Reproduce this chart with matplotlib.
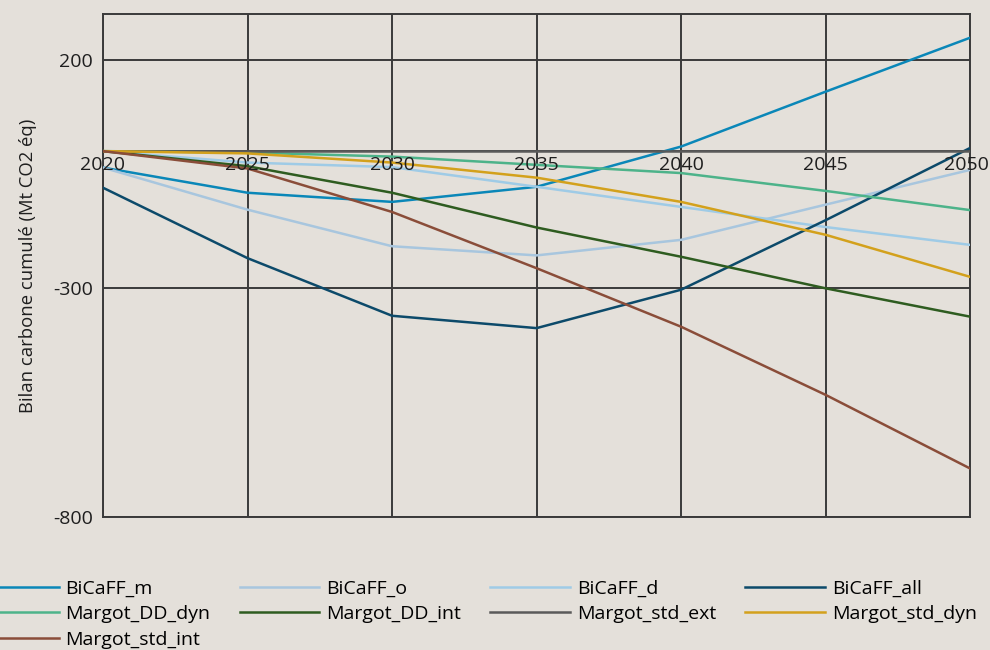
import numpy as np
import matplotlib
matplotlib.use("Agg")
import matplotlib.pyplot as plt
from matplotlib.transforms import offset_copy

# années et séries (Mt CO2 éq, cumulé)
annees = [2020, 2025, 2030, 2035, 2040, 2045, 2050]

bicaff_m = [-36, -91, -111, -78, 10, 130, 248]
bicaff_o = [-36, -128, -208, -228, -194, -117, -41]
bicaff_d = [0, -25, -35, -78, -122, -166, -205]
bicaff_all = [-80, -234, -360, -387, -303, -151, 7]
margot_dd_dyn = [0, -3, -12, -30, -48, -87, -129]
margot_dd_int = [0, -33, -91, -167, -231, -300, -362]
margot_std_ext = [0, 0, 0, 0, 0, 0, 0]
margot_std_dyn = [0, -5, -25, -58, -111, -183, -275]
margot_std_int = [0, -38, -133, -256, -384, -533, -694]

series = [
    ("BiCaFF_m", bicaff_m, "#0a87b8"),
    ("BiCaFF_o", bicaff_o, "#a8c6de"),
    ("BiCaFF_d", bicaff_d, "#9fcbe6"),
    ("BiCaFF_all", bicaff_all, "#0c4a6a"),
    ("Margot_DD_dyn", margot_dd_dyn, "#4db38a"),
    ("Margot_DD_int", margot_dd_int, "#2e5c20"),
    ("Margot_std_ext", margot_std_ext, "#5a5a5a"),
    ("Margot_std_dyn", margot_std_dyn, "#d3a11c"),
    ("Margot_std_int", margot_std_int, "#8a4d39"),
]

yticks = [200, 0, -300, -800]
ytick_labels = ["200", "", "-300", "-800"]

fond = "#e4e0da"
grille = "#3a3a3a"
txt = "#1e1e1e"

plt.rcParams['font.family'] = ['Open Sans', 'DejaVu Sans']

fig = plt.figure(figsize=(9.9, 6.5), dpi=100, facecolor=fond)
ax = fig.add_axes([0.104, 0.2046, 0.876, 0.774])
ax.set_facecolor(fond)

# grille
for y in yticks:
    ax.axhline(y, color=grille, lw=1.4, zorder=1)
for x in annees:
    ax.axvline(x, color=grille, lw=1.4, zorder=1)

handles = {}
for nom, vals, col in series:
    (h,) = ax.plot(annees, vals, color=col, lw=1.8, label=nom, zorder=3)
    handles[nom] = h

ax.set_xlim(2020, 2050)
ax.set_ylim(-800, 300)
ax.set_xticks([])
ax.set_yticks(yticks)
ax.set_yticklabels(ytick_labels, fontsize=14, color=txt)
ax.tick_params(axis="y", length=0, pad=7)
for s in ax.spines.values():
    s.set_color(grille)
    s.set_linewidth(1.4)

# étiquettes des années posées sur la ligne zéro
for x in annees[:-1]:
    ax.text(x, -10, str(x), ha="center", va="top", fontsize=14,
            color=txt, zorder=5, clip_on=False)
# la dernière touche le bord droit : on la cale dedans
tr = offset_copy(ax.transData, fig=fig, x=19, y=0, units="dots")
ax.text(annees[-1], -10, str(annees[-1]), ha="right", va="top", fontsize=14,
        color=txt, zorder=5, clip_on=False, transform=tr)

ax.set_ylabel("Bilan carbone cumulé (Mt CO2 éq)", fontsize=13.3, color=txt, labelpad=12)

# légende en lignes (réordonnée car matplotlib remplit par colonnes)
ordre = ["BiCaFF_m", "Margot_DD_dyn", "Margot_std_int",
         "BiCaFF_o", "Margot_DD_int",
         "BiCaFF_d", "Margot_std_ext",
         "BiCaFF_all", "Margot_std_dyn"]
fig.legend([handles[n] for n in ordre], ordre, loc="upper left",
           bbox_to_anchor=(-0.029, 0.12), ncol=4, frameon=False,
           fontsize=14, handlelength=4.1, handletextpad=0.35,
           columnspacing=1.5, labelspacing=0.38, borderaxespad=0)

fig.savefig("out.png", dpi=100, facecolor=fond)
